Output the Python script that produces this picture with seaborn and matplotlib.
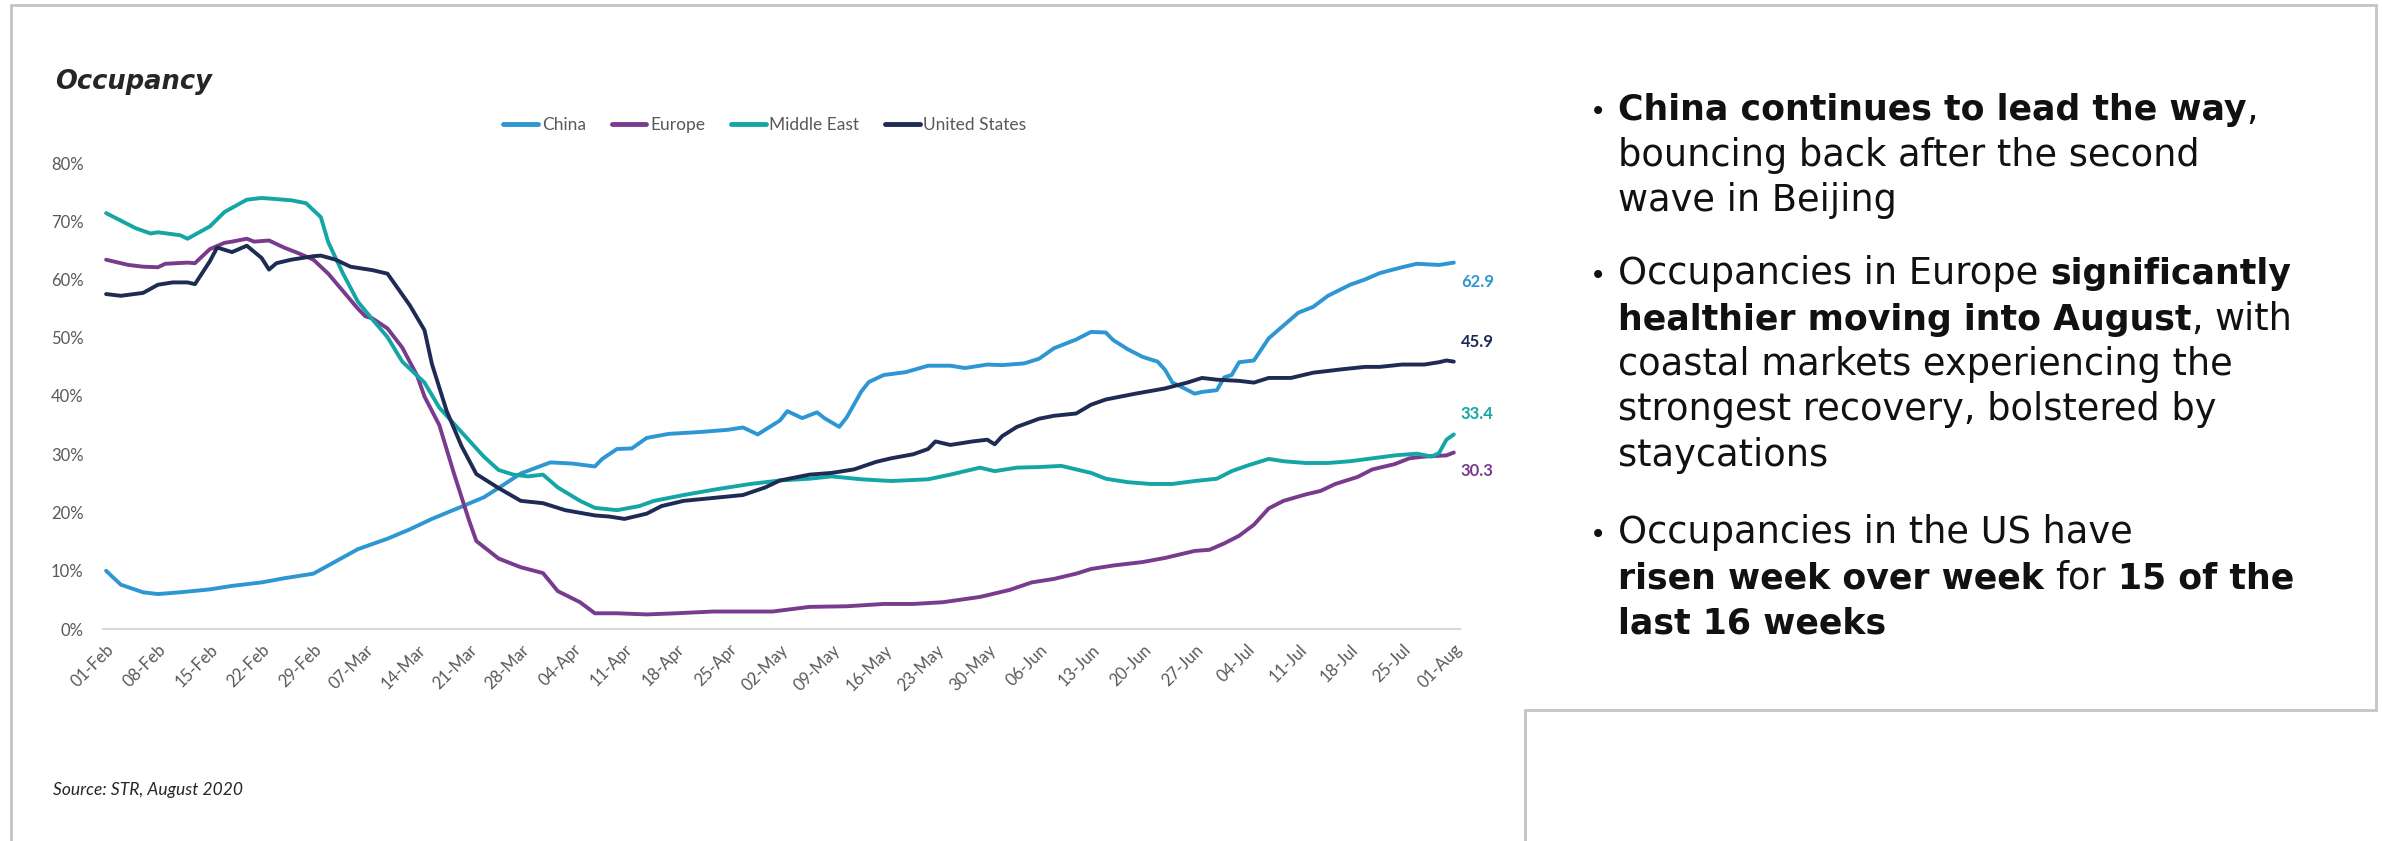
import numpy as np
import pandas as pd
import matplotlib
matplotlib.use("Agg")
import matplotlib.pyplot as plt
from matplotlib.lines import Line2D
from matplotlib.ticker import FuncFormatter
import seaborn as sns

W, H = 2382, 841

regions = ["China", "Europe", "Middle East", "United States"]
colors = ["#2e96d3", "#793b8e", "#13a6a5", "#1d2b55"]
start = pd.Timestamp("2020-02-01")

# days since 01-Feb, occupancy in %
china_day = [0, 2, 5, 7, 10, 14, 17, 21, 24, 28, 31, 34, 38, 41, 44, 48, 51, 53, 56, 60,
             63, 66, 67, 69, 71, 73, 76, 80, 84, 86, 88, 91, 92, 94, 96, 97, 99, 100, 102, 103,
             105, 108, 111, 114, 116, 119, 121, 124, 126, 128, 131, 133, 135, 136, 138, 140, 142, 143, 144, 145,
             147, 148, 150, 151, 152, 153, 155, 157, 159, 161, 163, 165, 168, 170, 172, 175, 177, 180, 182]
china_val = [10.0, 7.6, 6.3, 6.0, 6.3, 6.8, 7.4, 8.0, 8.7, 9.5, 11.6, 13.7, 15.5, 17.1, 18.9, 21.0, 22.6, 24.2, 26.7, 28.6,
             28.4, 27.9, 29.2, 30.9, 31.0, 32.8, 33.5, 33.8, 34.2, 34.6, 33.4, 35.8, 37.4, 36.2, 37.2, 36.2, 34.7, 36.3, 40.8, 42.4,
             43.6, 44.1, 45.2, 45.2, 44.8, 45.4, 45.3, 45.6, 46.4, 48.2, 49.7, 51.0, 50.9, 49.6, 48.0, 46.7, 45.9, 44.5, 42.3, 41.7,
             40.4, 40.7, 41.0, 43.2, 43.6, 45.8, 46.1, 49.9, 52.1, 54.3, 55.3, 57.2, 59.1, 60.0, 61.1, 62.1, 62.7, 62.5, 62.9]

europe_day = [0, 3, 5, 7, 8, 11, 12, 14, 16, 17, 19, 20, 22, 24, 26, 28, 30, 32, 34, 35,
              36, 38, 40, 42, 43, 45, 47, 49, 50, 53, 56, 59, 61, 64, 66, 69, 73, 77, 82, 90,
              95, 100, 105, 109, 113, 118, 122, 125, 128, 131, 133, 136, 138, 140, 143, 145, 147, 149, 151, 153,
              155, 157, 159, 162, 164, 166, 169, 171, 174, 176, 178, 181, 182]
europe_val = [63.4, 62.5, 62.2, 62.1, 62.7, 62.9, 62.8, 65.2, 66.3, 66.5, 67.0, 66.5, 66.7, 65.5, 64.5, 63.4, 61.0, 58.0, 55.0, 53.7,
              53.3, 51.6, 48.3, 43.5, 39.9, 35.0, 26.6, 18.7, 15.1, 12.1, 10.6, 9.6, 6.5, 4.6, 2.7, 2.7, 2.5, 2.7, 3.0, 3.0,
              3.8, 3.9, 4.3, 4.3, 4.6, 5.5, 6.7, 8.0, 8.6, 9.5, 10.3, 10.9, 11.2, 11.5, 12.2, 12.8, 13.4, 13.6, 14.7, 16.0,
              17.9, 20.7, 22.0, 23.1, 23.7, 24.9, 26.1, 27.4, 28.3, 29.3, 29.6, 29.8, 30.3]

me_day = [0, 4, 6, 7, 10, 11, 14, 16, 19, 21, 23, 25, 27, 29, 30, 32, 34, 36, 38, 40,
          43, 45, 48, 51, 53, 55, 57, 59, 61, 64, 66, 69, 72, 74, 78, 82, 87, 91, 95, 98,
          102, 106, 111, 114, 118, 120, 123, 126, 129, 131, 133, 135, 138, 141, 144, 147, 150, 152, 154, 157,
          159, 162, 165, 168, 171, 174, 177, 179, 180, 181, 182]
me_val = [71.4, 68.8, 67.9, 68.1, 67.6, 67.0, 69.1, 71.6, 73.7, 74.0, 73.8, 73.6, 73.1, 70.7, 66.4, 61.0, 56.2, 53.1, 50.1, 45.9,
          42.3, 38.0, 33.8, 29.6, 27.3, 26.5, 26.2, 26.5, 24.3, 22.0, 20.8, 20.4, 21.1, 22.0, 23.0, 23.9, 24.9, 25.5, 25.8, 26.2,
          25.7, 25.4, 25.7, 26.5, 27.7, 27.1, 27.7, 27.8, 28.0, 27.4, 26.8, 25.8, 25.2, 24.9, 24.9, 25.4, 25.8, 27.1, 28.0, 29.2,
          28.8, 28.5, 28.5, 28.8, 29.3, 29.8, 30.1, 29.6, 30.2, 32.5, 33.4]

us_day = [0, 2, 5, 7, 9, 11, 12, 14, 15, 17, 19, 21, 22, 23, 25, 28, 29, 31, 33, 36,
          38, 39, 41, 43, 44, 46, 48, 50, 53, 56, 59, 62, 66, 68, 70, 73, 75, 78, 82, 86,
          89, 91, 95, 98, 101, 104, 106, 109, 111, 112, 114, 117, 119, 120, 121, 123, 126, 128, 131, 133,
          135, 139, 143, 146, 148, 150, 153, 155, 157, 160, 163, 167, 170, 172, 175, 178, 180, 181, 182]
us_val = [57.5, 57.2, 57.7, 59.1, 59.5, 59.5, 59.2, 63.1, 65.5, 64.7, 65.8, 63.7, 61.7, 62.8, 63.4, 64.0, 64.1, 63.4, 62.2, 61.6,
          61.0, 59.2, 55.6, 51.3, 45.5, 37.4, 31.4, 26.6, 24.2, 22.0, 21.6, 20.4, 19.5, 19.3, 18.9, 19.8, 21.1, 22.0, 22.5, 23.0,
          24.3, 25.5, 26.5, 26.8, 27.4, 28.7, 29.3, 30.0, 30.9, 32.2, 31.6, 32.2, 32.5, 31.7, 33.1, 34.7, 36.1, 36.6, 37.0, 38.5,
          39.4, 40.4, 41.3, 42.3, 43.1, 42.8, 42.6, 42.3, 43.1, 43.1, 44.0, 44.6, 45.0, 45.0, 45.4, 45.4, 45.8, 46.1, 45.9]

tick_days = list(range(0, 183, 7))
y_ticks = [0, 10, 20, 30, 40, 50, 60, 70, 80]
end_offsets = {"China": -14, "Europe": -13, "Middle East": 15, "United States": 14}

frames = []
for name, days, vals in zip(regions, [china_day, europe_day, me_day, us_day],
                            [china_val, europe_val, me_val, us_val]):
    frames.append(pd.DataFrame({"region": name,
                                "date": start + pd.to_timedelta(days, unit="D"),
                                "occ": np.array(vals) / 100}))
df = pd.concat(frames, ignore_index=True)

sns.set_style("white")
plt.rcParams["font.family"] = ["Lato", "DejaVu Sans"]


def fx(px):
    return px / W


def fy(py):
    return 1 - py / H


fig = plt.figure(figsize=(W / 100, H / 100), dpi=100)
ax = fig.add_axes([fx(103), fy(629), fx(1460) - fx(103), fy(163) - fy(629)])

sns.lineplot(data=df, x="date", y="occ", hue="region", hue_order=regions,
             palette=colors, linewidth=2.8, estimator=None, ax=ax)

ax.set_ylim(0, 0.8)
ax.set_yticks(np.array(y_ticks) / 100)
ax.yaxis.set_major_formatter(FuncFormatter(lambda v, _: f"{v * 100:.0f}%"))
ax.set_xlim(start - pd.Timedelta(hours=10), start + pd.Timedelta(days=182, hours=20))
tick_dates = [start + pd.Timedelta(days=d) for d in tick_days]
ax.set_xticks(tick_dates)
ax.set_xticklabels([d.strftime("%d-%b") for d in tick_dates], rotation=45,
                   ha="right", rotation_mode="anchor")
ax.tick_params(axis="both", length=0, labelcolor="#595959", labelsize=12)
ax.tick_params(axis="y", pad=14)
ax.tick_params(axis="x", pad=9)
ax.set_xlabel("")
ax.set_ylabel("")
sns.despine(ax=ax, left=True)
ax.spines["bottom"].set_color("#d9d9d9")
ax.spines["bottom"].set_linewidth(1.5)

# end-of-line value labels
for name, col in zip(regions, colors):
    last = df[df.region == name].iloc[-1]
    ax.annotate(f"{last.occ * 100:.1f}", xy=(last.date, last.occ),
                xytext=(5, end_offsets[name]), textcoords="offset points",
                ha="left", va="center", fontsize=12, fontweight="bold", color=col)

handles, labels = ax.get_legend_handles_labels()
ax.get_legend().remove()
leg = fig.legend(handles, labels, loc="center", bbox_to_anchor=(fx(765), fy(125)),
                 ncol=4, frameon=False, fontsize=12.5, handlelength=2.0,
                 handletextpad=0.2, columnspacing=1.5)
for h in leg.legend_handles:
    h.set_linewidth(3.5)
for t in leg.get_texts():
    t.set_color("#595959")

fig.text(fx(55), fy(89), "Occupancy", family="DejaVu Sans", fontsize=18.5,
         fontweight="bold", style="italic", va="baseline")
fig.text(fx(53), fy(790), "Source: STR, August 2020", fontsize=12.5,
         style="italic", color="#262626", va="center")

# slide frame
frame_col = "#c4c4c4"
for xs, ys in [([11, 2376], [5, 5]), ([11, 11], [5, 841]), ([2376, 2376], [5, 710]),
               ([1525, 2376], [710, 710]), ([1525, 1525], [710, 841])]:
    fig.add_artist(Line2D([fx(x) for x in xs], [fy(y) for y in ys],
                          color=frame_col, lw=2))

# bullet text
renderer = fig.canvas.get_renderer()
size_reg, size_bold = 26.5, 25


def text_w(s, bold):
    t = fig.text(0, 0, s, fontsize=size_bold if bold else size_reg, family="DejaVu Sans",
                 fontweight="bold" if bold else "normal")
    w = t.get_window_extent(renderer).width
    t.remove()
    return w


space_w = {b: text_w("a a", b) - text_w("aa", b) for b in (False, True)}


def put_line(y_px, runs):
    x = 1618
    for s, bold in runs:
        if s == " ":
            x += space_w[bold]
            continue
        t = fig.text(fx(x), fy(y_px), s, fontsize=size_bold if bold else size_reg,
                     family="DejaVu Sans", fontweight="bold" if bold else "normal",
                     va="baseline", color="#111111")
        x += t.get_window_extent(renderer).width


paragraphs = [
    (120, [[("China continues to lead the way", True), (",", False)],
           [("bouncing back after the second", False)],
           [("wave in Beijing", False)]]),
    (284, [[("Occupancies in Europe", False), (" ", False), ("significantly", True)],
           [("healthier moving into August", True), (",", False), (" ", False), ("with", False)],
           [("coastal markets experiencing the", False)],
           [("strongest recovery, bolstered by", False)],
           [("staycations", False)]]),
    (543, [[("Occupancies in the US have", False)],
           [("risen week over week", True), (" ", False), ("for", False), (" ", False),
            ("15 of the", True)],
           [("last 16 weeks", True)]]),
]
for y0, lines in paragraphs:
    fig.text(fx(1590), fy(y0), "\u2022", fontsize=size_reg * 0.75, family="DejaVu Sans",
             va="baseline", color="#111111")
    for i, runs in enumerate(lines):
        put_line(y0 + i * 45.5, runs)

fig.savefig("out.png", dpi=100)
